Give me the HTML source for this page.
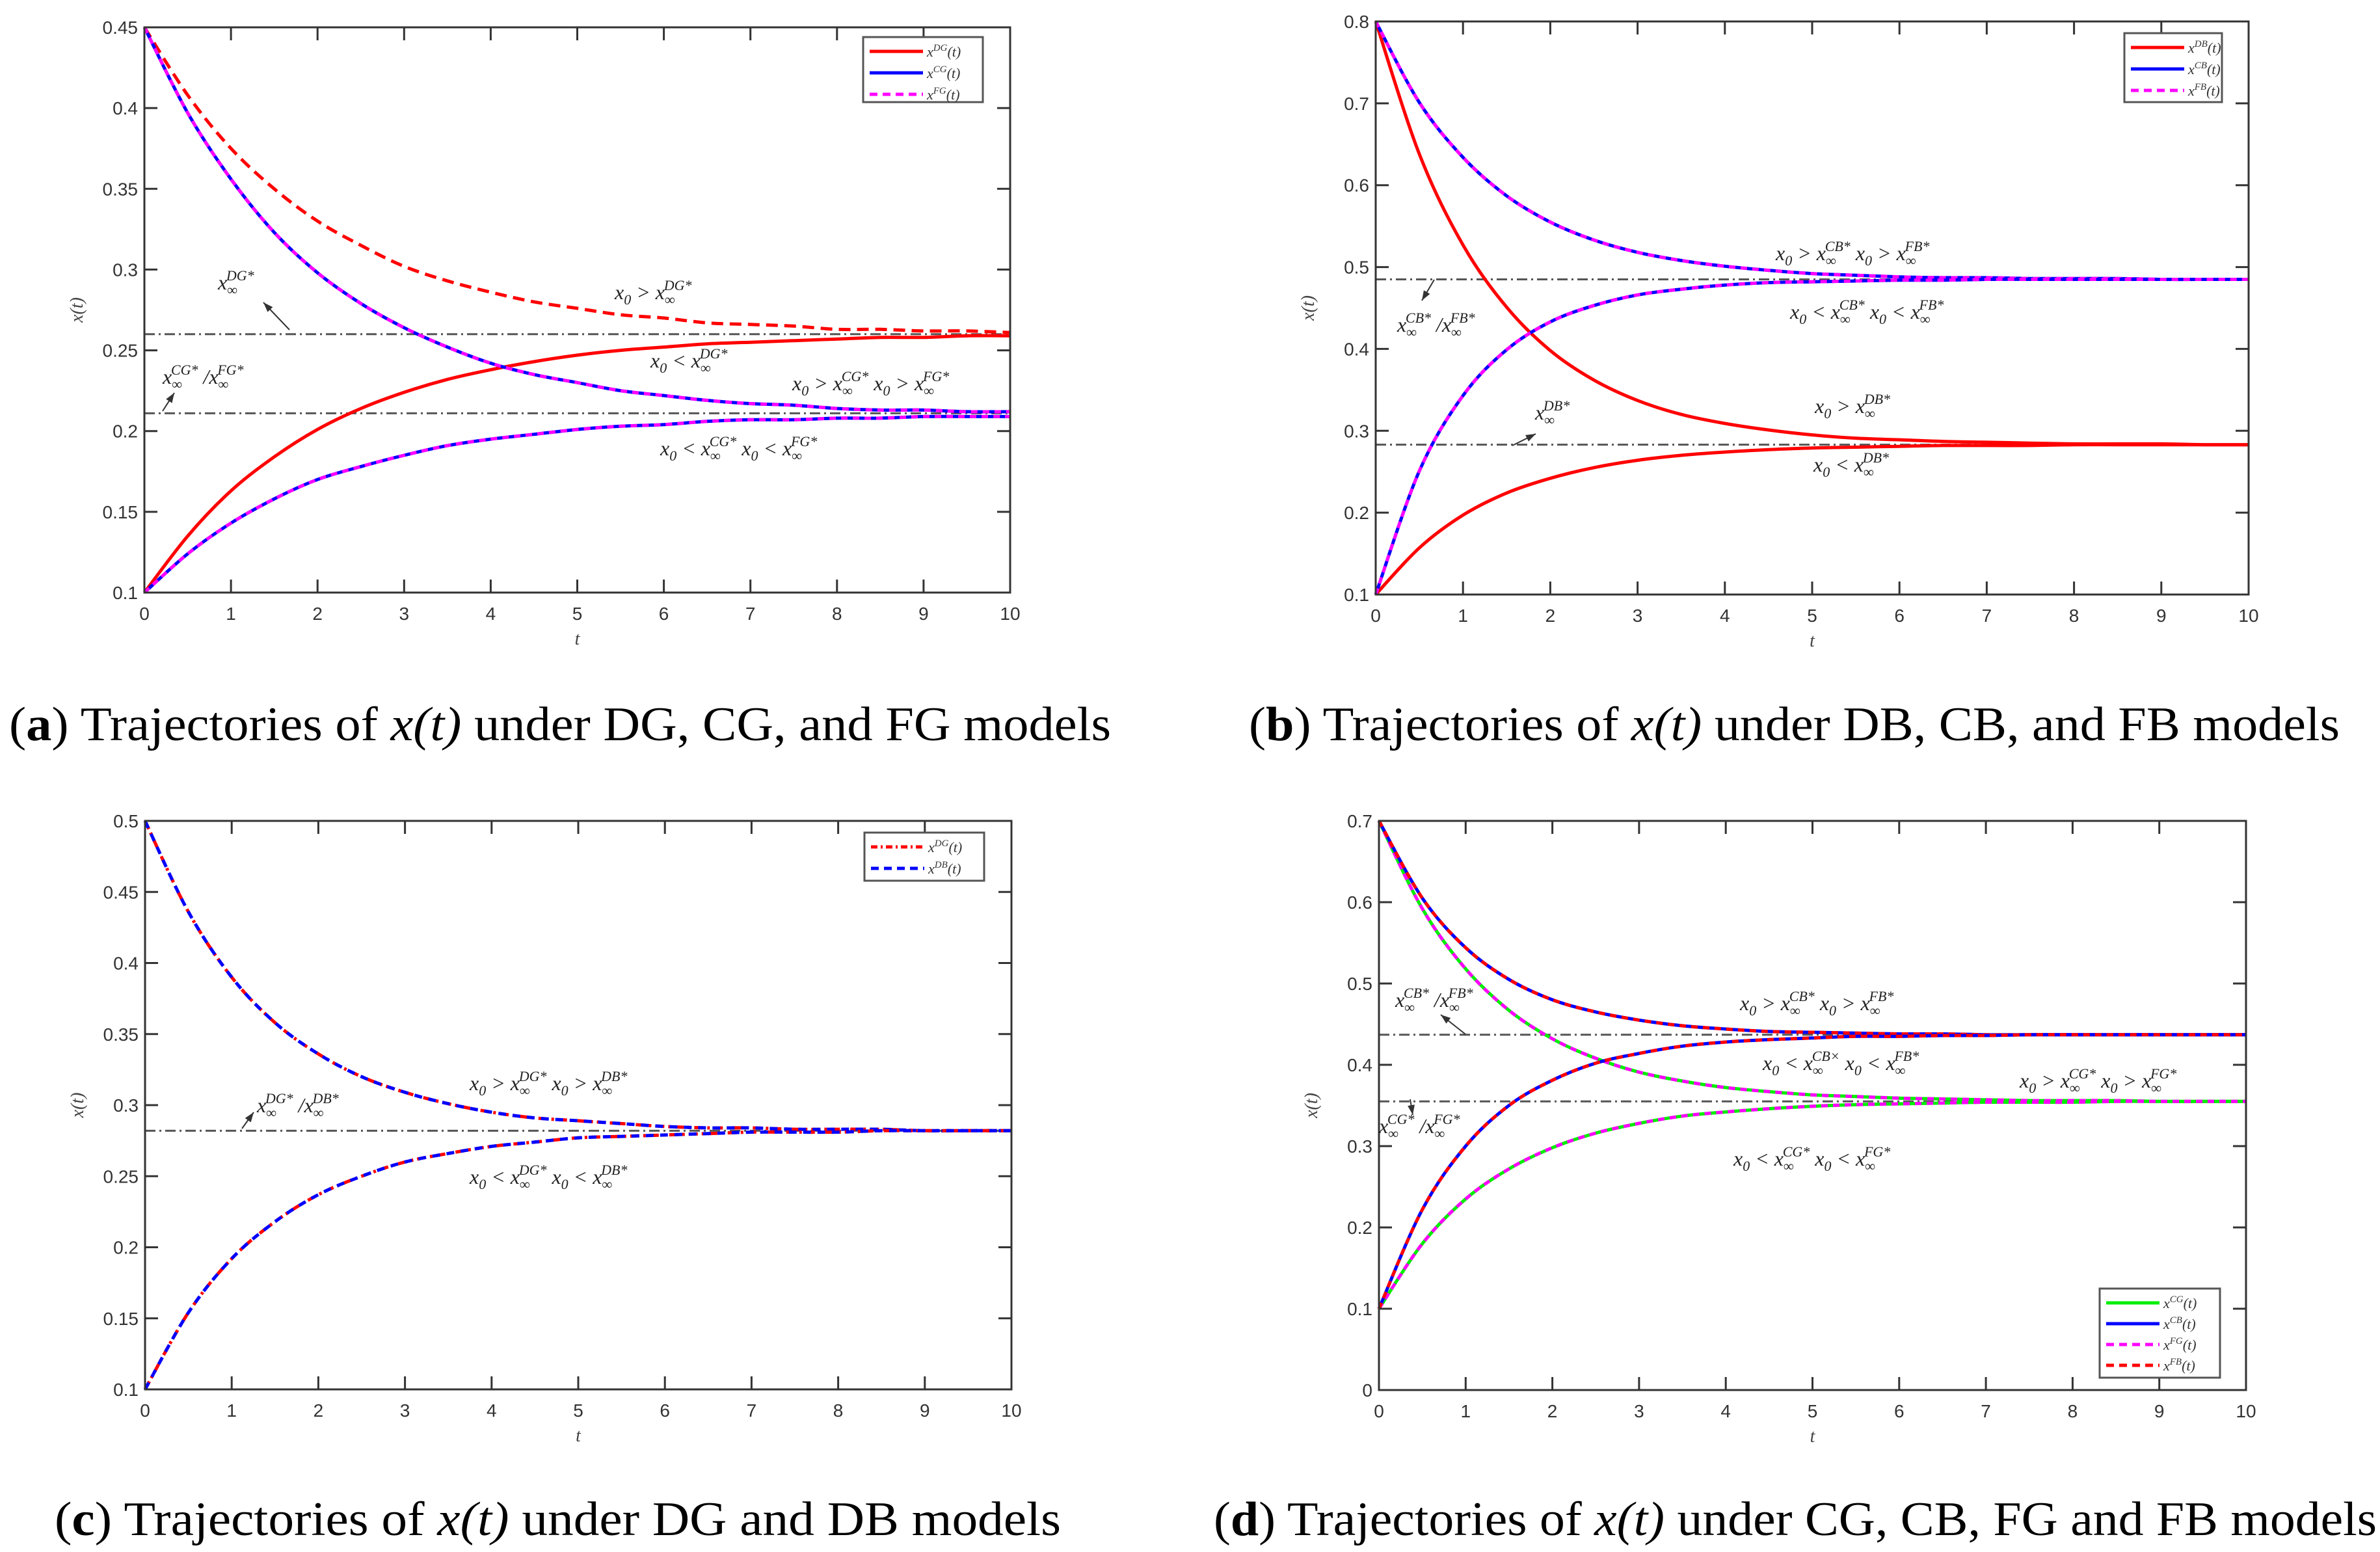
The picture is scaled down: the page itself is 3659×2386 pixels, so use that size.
<!DOCTYPE html>
<html><head><meta charset="utf-8"><style>
html,body{margin:0;padding:0;background:#fff;}
svg{display:block;}
</style></head><body>
<svg id="fig" width="3659" height="2386" viewBox="0 0 3659 2386" xmlns="http://www.w3.org/2000/svg" font-family="Liberation Sans, sans-serif">
<rect width="3659" height="2386" fill="#fff"/>
</svg>
<script>
// ---- data (t = 0..10 step 0.5) ----
const tVals = [0,0.5,1,1.5,2,2.5,3,3.5,4,4.5,5,5.5,6,6.5,7,7.5,8,8.5,9,9.5,10];
const xTicks = [0,1,2,3,4,5,6,7,8,9,10];
// panel a
const aDGhi = [.450,.408,.375,.350,.330,.315,.302,.293,.286,.280,.276,.272,.270,.267,.266,.265,.263,.263,.262,.262,.261];
const aDGlo = [.100,.135,.163,.184,.201,.214,.224,.232,.238,.243,.247,.250,.252,.254,.255,.256,.257,.258,.258,.259,.259];
const aCGhi = [.450,.397,.356,.323,.298,.279,.264,.252,.242,.235,.230,.225,.222,.219,.217,.216,.214,.213,.213,.212,.212];
const aCGlo = [.100,.124,.143,.158,.170,.178,.185,.191,.195,.198,.201,.203,.204,.206,.207,.207,.208,.208,.209,.209,.209];
const aRefs = [0.26,0.211];
const aYTicks = [0.1,0.15,0.2,0.25,0.3,0.35,0.4,0.45];
const aYLabels = ["0.1","0.15","0.2","0.25","0.3","0.35","0.4","0.45"];
// panel b
const bDBhi = [.800,.638,.527,.451,.398,.362,.337,.320,.309,.301,.295,.291,.289,.287,.286,.285,.284,.284,.284,.283,.283];
const bDBlo = [.100,.157,.197,.224,.242,.255,.264,.270,.274,.277,.279,.280,.281,.282,.282,.282,.283,.283,.283,.283,.283];
const bCBhi = [.800,.701,.634,.587,.555,.533,.518,.508,.501,.496,.492,.490,.488,.487,.487,.486,.486,.486,.485,.485,.485];
const bCBlo = [.100,.251,.343,.399,.433,.453,.466,.473,.478,.481,.482,.483,.484,.484,.485,.485,.485,.485,.485,.485,.485];
const bRefs = [0.485,0.283];
const bYTicks = [0.1,0.2,0.3,0.4,0.5,0.6,0.7,0.8];
const bYLabels = ["0.1","0.2","0.3","0.4","0.5","0.6","0.7","0.8"];
// panel c
const cDGhi = [.500,.436,.390,.358,.336,.320,.309,.301,.295,.291,.289,.287,.285,.284,.284,.283,.283,.283,.282,.282,.282];
const cDGlo = [.100,.154,.192,.218,.237,.250,.260,.266,.271,.274,.277,.278,.279,.280,.281,.281,.281,.282,.282,.282,.282];
const cRefs = [0.282];
const cYTicks = [0.1,0.15,0.2,0.25,0.3,0.35,0.4,0.45,0.5];
const cYLabels = ["0.1","0.15","0.2","0.25","0.3","0.35","0.4","0.45","0.5"];
// panel d
const dCBhi = [.700,.605,.544,.505,.480,.465,.455,.448,.444,.441,.440,.439,.438,.438,.437,.437,.437,.437,.437,.437,.437];
const dCBlo = [.100,.222,.300,.350,.381,.402,.414,.423,.428,.431,.433,.435,.435,.436,.436,.437,.437,.437,.437,.437,.437];
const dCGhi = [.700,.592,.518,.467,.432,.408,.391,.380,.372,.367,.363,.361,.359,.358,.357,.356,.356,.356,.355,.355,.355];
const dCGlo = [.100,.180,.235,.272,.298,.316,.328,.337,.342,.346,.349,.351,.352,.353,.354,.354,.354,.355,.355,.355,.355];
const dRefs = [0.437,0.355];
const dYTicks = [0,0.1,0.2,0.3,0.4,0.5,0.6,0.7];
const dYLabels = ["0","0.1","0.2","0.3","0.4","0.5","0.6","0.7"];

const NS = "http://www.w3.org/2000/svg";
const svg = document.getElementById('fig');
function mk(tag, attrs, parent){
  const e = document.createElementNS(NS, tag);
  for (const k in attrs) e.setAttribute(k, attrs[k]);
  (parent||svg).appendChild(e);
  return e;
}
function smoothPath(pts){
  let d = "M"+pts[0][0].toFixed(1)+","+pts[0][1].toFixed(1);
  for (let i=0;i<pts.length-1;i++){
    const p0=pts[Math.max(0,i-1)], p1=pts[i], p2=pts[i+1], p3=pts[Math.min(pts.length-1,i+2)];
    const c1=[p1[0]+(p2[0]-p0[0])/6, p1[1]+(p2[1]-p0[1])/6];
    const c2=[p2[0]-(p3[0]-p1[0])/6, p2[1]-(p3[1]-p1[1])/6];
    d += " C"+c1[0].toFixed(1)+","+c1[1].toFixed(1)+" "+c2[0].toFixed(1)+","+c2[1].toFixed(1)+" "+p2[0].toFixed(1)+","+p2[1].toFixed(1);
  }
  return d;
}
function panel(cfg){
  const g = mk('g', {});
  
  
  const X = t => cfg.L + (t - 0) / 10 * (cfg.R - cfg.L);
  const Y = v => cfg.B - (v - cfg.ymin) / (cfg.ymax - cfg.ymin) * (cfg.B - cfg.T);
  cfg.refs.forEach(r=>{
    const l = mk('line', {x1:cfg.L, x2:cfg.R, y1:Y(r), y2:Y(r), stroke:'#555', 'stroke-width':3, 'stroke-dasharray':'16,6,3,6'}, g);
    
    
  });
  cfg.series.forEach(s=>{
    const pts = tVals.map((t,i)=>[X(t), Y(s.vals[i])]);
    const p = mk('path', {d:smoothPath(pts), fill:'none', stroke:s.color, 'stroke-width':s.w||5}, g);
    if (s.dash) p.setAttribute('stroke-dasharray', s.dash);
    
    
  });
  const box = mk('rect', {x:cfg.L, y:cfg.T, width:cfg.R-cfg.L, height:cfg.B-cfg.T, fill:'none', stroke:'#333', 'stroke-width':3}, g);
  
  
  xTicks.forEach(t=>{
    const x = X(t);
    mk('line', {x1:x, x2:x, y1:cfg.B, y2:cfg.B-20, stroke:'#333', 'stroke-width':3}, g);
    mk('line', {x1:x, x2:x, y1:cfg.T, y2:cfg.T+20, stroke:'#333', 'stroke-width':3}, g);
    const tx = mk('text', {x:x, y:cfg.B+42, 'font-size':28, 'text-anchor':'middle', fill:'#333'}, g);
    tx.textContent = String(t);
    
    
  });
  cfg.yticks.forEach((v,i)=>{
    const y = Y(v);
    mk('line', {x1:cfg.L, x2:cfg.L+20, y1:y, y2:y, stroke:'#333', 'stroke-width':3}, g);
    mk('line', {x1:cfg.R, x2:cfg.R-20, y1:y, y2:y, stroke:'#333', 'stroke-width':3}, g);
    const ty = mk('text', {x:cfg.L-10, y:y+10, 'font-size':28, 'text-anchor':'end', fill:'#333'}, g);
    ty.textContent = cfg.ylabels[i];
    
    
  });
  const xl = mk('text', {x:(cfg.L+cfg.R)/2, y:cfg.B+80, 'font-size':28, 'text-anchor':'middle', fill:'#444', 'font-family':'Liberation Serif, serif', 'font-style':'italic'}, g);
  xl.textContent = 't';
  
  
  const yl = mk('text', {x:0, y:0, 'font-size':28, 'text-anchor':'middle', fill:'#444', 'font-family':'Liberation Serif, serif', 'font-style':'italic', transform:'translate('+(cfg.L-95)+','+((cfg.T+cfg.B)/2)+') rotate(-90)'}, g);
  yl.textContent = 'x(t)';
  
  
  const lg = cfg.legend;
  const lgg = mk('g', {}, g);
  
  
  mk('rect', {x:lg.x, y:lg.y, width:lg.w, height:lg.h, fill:'#fff', stroke:'#555', 'stroke-width':3}, lgg);
  lg.items.forEach((it,i)=>{
    const yy = lg.y + 22 + i*lg.step;
    const ln = mk('line', {x1:lg.x+10, x2:lg.x+92, y1:yy, y2:yy, stroke:it.color, 'stroke-width':5}, lgg);
    if (it.dash) ln.setAttribute('stroke-dasharray', it.dash);
    const tt = mk('text', {x:lg.x+98, y:yy+8, 'font-size':22, fill:'#333', 'font-family':'Liberation Serif, serif', 'font-style':'italic'}, lgg);
    
    
    const a = mk('tspan', {}, tt); a.textContent = 'x';
    const b = mk('tspan', {dy:-9, 'font-size':15}, tt); b.textContent = it.sup;
    const c = mk('tspan', {dy:9}, tt); c.textContent = '(t)';
  });
  cfg.notes.forEach(n=>{
    const t = mk('text', {x:n.x, y:n.y, 'font-size':32, fill:'#222', 'font-family':'Liberation Serif, serif', 'font-style':'italic'}, g);
    
    
    n.parts.forEach(p=>{
      if (p[0]==='t'){ const s = mk('tspan', {}, t); s.textContent = p[1]; }
      else if (p[0]==='x0'){ const s=mk('tspan',{},t); s.textContent='x'; const s2=mk('tspan',{dy:8,'font-size':22},t); s2.textContent='0'; const s3=mk('tspan',{dy:-8},t); s3.textContent=' '; }
      else if (p[0]==='xi'){ const s=mk('tspan',{},t); s.textContent='x'; const s2=mk('tspan',{dy:8,'font-size':22},t); s2.textContent='∞'; const s3=mk('tspan',{dx:-17,dy:-22,'font-size':22},t); s3.textContent=p[1]; const s4=mk('tspan',{dy:14},t); s4.textContent=' '; }
    });
  });
  cfg.arrows.forEach(a=>{
    const l = mk('line', {x1:a[0], y1:a[1], x2:a[2], y2:a[3], stroke:'#333', 'stroke-width':2}, g);
    
    
    const ang = Math.atan2(a[3]-a[1], a[2]-a[0]);
    const hx = a[2], hy = a[3];
    const p1 = [hx-16*Math.cos(ang-0.35), hy-16*Math.sin(ang-0.35)];
    const p2 = [hx-16*Math.cos(ang+0.35), hy-16*Math.sin(ang+0.35)];
    mk('polygon', {points:hx+','+hy+' '+p1.join(',')+' '+p2.join(','), fill:'#333'}, g);
  });
  const cap = mk('text', {x:cfg.capX, y:cfg.capY, 'font-size':74, fill:'#000', 'font-family':'Liberation Serif, serif', textLength:cfg.capW, lengthAdjust:'spacingAndGlyphs'}, g);
  
  
  const c1 = mk('tspan', {}, cap); c1.textContent='(';
  const c2 = mk('tspan', {'font-weight':'bold'}, cap); c2.textContent=cfg.letter;
  const c3 = mk('tspan', {}, cap); c3.textContent=') Trajectories of ';
  const c4 = mk('tspan', {'font-style':'italic'}, cap); c4.textContent=' x(t) ';
  const c5 = mk('tspan', {}, cap); c5.textContent=' under '+cfg.capText;
}
const RED='#f00', BLUE='#00f', MAG='#f0f', GRN='#0e0';
panel({name:'panel-a', letter:'a', capText:'DG, CG, and FG models', capX:14, capW:1694, capY:1138,
  L:222, R:1553, T:42, B:911, ymin:0.1, ymax:0.45, yticks:aYTicks, ylabels:aYLabels, refs:aRefs,
  series:[
    {name:'dg-upper', vals:aDGhi, color:RED, dash:'18,10'},
    {name:'dg-lower', vals:aDGlo, color:RED},
    {name:'cg-upper', vals:aCGhi, color:BLUE},
    {name:'fg-upper', vals:aCGhi, color:MAG, dash:'10,8'},
    {name:'cg-lower', vals:aCGlo, color:BLUE},
    {name:'fg-lower', vals:aCGlo, color:MAG, dash:'10,8'}],
  legend:{x:1327, y:57, w:184, h:100, step:33, items:[{color:RED,sup:'DG'},{color:BLUE,sup:'CG'},{color:MAG,sup:'FG',dash:'12,8'}]},
  notes:[
    {x:335,y:445,parts:[['xi','DG*']]},
    {x:945,y:460,parts:[['x0'],['t','> '],['xi','DG*']]},
    {x:250,y:590,parts:[['xi','CG*'],['t','/'],['xi','FG*']]},
    {x:1000,y:565,parts:[['x0'],['t','< '],['xi','DG*']]},
    {x:1218,y:600,parts:[['x0'],['t','> '],['xi','CG*'],['x0'],['t','> '],['xi','FG*']]},
    {x:1015,y:700,parts:[['x0'],['t','< '],['xi','CG*'],['t','   '],['x0'],['t','< '],['xi','FG*']]}],
  arrows:[[445,507,405,465],[250,632,268,604]]});
panel({name:'panel-b', letter:'b', capText:'DB, CB, and FB models', capX:1920, capW:1677, capY:1138,
  L:2115, R:3457, T:33, B:914, ymin:0.1, ymax:0.8, yticks:bYTicks, ylabels:bYLabels, refs:bRefs,
  series:[
    {name:'db-upper', vals:bDBhi, color:RED},
    {name:'db-lower', vals:bDBlo, color:RED},
    {name:'cb-upper', vals:bCBhi, color:BLUE},
    {name:'fb-upper', vals:bCBhi, color:MAG, dash:'10,8'},
    {name:'cb-lower', vals:bCBlo, color:BLUE},
    {name:'fb-lower', vals:bCBlo, color:MAG, dash:'10,8'}],
  legend:{x:3266, y:51, w:150, h:106, step:33, items:[{color:RED,sup:'DB'},{color:BLUE,sup:'CB'},{color:MAG,sup:'FB',dash:'12,8'}]},
  notes:[
    {x:2730,y:400,parts:[['x0'],['t','> '],['xi','CB*'],['x0'],['t','> '],['xi','FB*']]},
    {x:2148,y:510,parts:[['xi','CB*'],['t','/'],['xi','FB*']]},
    {x:2752,y:490,parts:[['x0'],['t','< '],['xi','CB*'],['x0'],['t','< '],['xi','FB*']]},
    {x:2360,y:645,parts:[['xi','DB*']]},
    {x:2790,y:635,parts:[['x0'],['t','> '],['xi','DB*']]},
    {x:2788,y:725,parts:[['x0'],['t','< '],['xi','DB*']]}],
  arrows:[[2205,430,2186,462],[2325,685,2361,667]]});
panel({name:'panel-c', letter:'c', capText:'DG and DB models', capX:84, capW:1547, capY:2360,
  L:223, R:1555, T:1262, B:2136, ymin:0.1, ymax:0.5, yticks:cYTicks, ylabels:cYLabels, refs:cRefs,
  series:[
    {name:'dg-upper', vals:cDGhi, color:RED, dash:'14,6,4,6'},
    {name:'db-upper', vals:cDGhi, color:BLUE, dash:'12,10'},
    {name:'dg-lower', vals:cDGlo, color:RED, dash:'14,6,4,6'},
    {name:'db-lower', vals:cDGlo, color:BLUE, dash:'12,10'}],
  legend:{x:1329, y:1280, w:184, h:74, step:33, items:[{color:RED,sup:'DG',dash:'10,5,3,5'},{color:BLUE,sup:'DB',dash:'12,8'}]},
  notes:[
    {x:395,y:1710,parts:[['xi','DG*'],['t','/'],['xi','DB*']]},
    {x:722,y:1676,parts:[['x0'],['t','> '],['xi','DG*'],['t','   '],['x0'],['t','> '],['xi','DB*']]},
    {x:722,y:1820,parts:[['x0'],['t','< '],['xi','DG*'],['t','   '],['x0'],['t','< '],['xi','DB*']]}],
  arrows:[[372,1735,390,1710]]});
panel({name:'panel-d', letter:'d', capText:'CG, CB, FG and FB models', capX:1866, capW:1788, capY:2360,
  L:2120, R:3453, T:1262, B:2137, ymin:0, ymax:0.7, yticks:dYTicks, ylabels:dYLabels, refs:dRefs,
  series:[
    {name:'cg-upper', vals:dCGhi, color:GRN},
    {name:'fg-upper', vals:dCGhi, color:MAG, dash:'10,8'},
    {name:'cg-lower', vals:dCGlo, color:GRN},
    {name:'fg-lower', vals:dCGlo, color:MAG, dash:'10,8'},
    {name:'cb-upper', vals:dCBhi, color:BLUE},
    {name:'fb-upper', vals:dCBhi, color:RED, dash:'10,8'},
    {name:'cb-lower', vals:dCBlo, color:BLUE},
    {name:'fb-lower', vals:dCBlo, color:RED, dash:'10,8'}],
  legend:{x:3228, y:1981, w:185, h:137, step:32, items:[{color:GRN,sup:'CG'},{color:BLUE,sup:'CB'},{color:MAG,sup:'FG',dash:'12,8'},{color:RED,sup:'FB',dash:'12,8'}]},
  notes:[
    {x:2145,y:1548,parts:[['xi','CB*'],['t','/'],['xi','FB*']]},
    {x:2675,y:1553,parts:[['x0'],['t','> '],['xi','CB*'],['x0'],['t','> '],['xi','FB*']]},
    {x:2710,y:1645,parts:[['x0'],['t','< '],['xi','CB×'],['x0'],['t','< '],['xi','FB*']]},
    {x:3105,y:1672,parts:[['x0'],['t','> '],['xi','CG*'],['x0'],['t','> '],['xi','FG*']]},
    {x:2120,y:1742,parts:[['xi','CG*'],['t','/'],['xi','FG*']]},
    {x:2665,y:1792,parts:[['x0'],['t','< '],['xi','CG*'],['x0'],['t','< '],['xi','FG*']]}],
  arrows:[[2253,1590,2215,1560],[2168,1690,2172,1714]]});
</script>
</body></html>
